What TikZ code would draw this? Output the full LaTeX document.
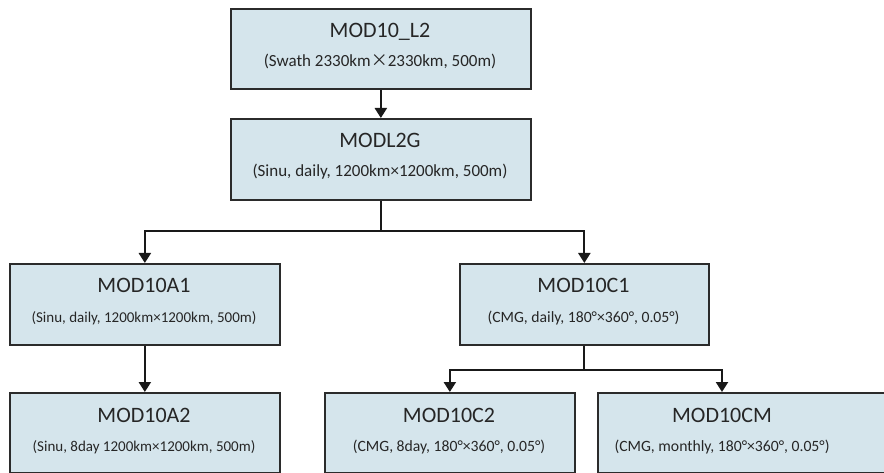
\documentclass[tikz,border=0pt]{standalone}
\usepackage{fontspec}
\setmainfont{Carlito}
\newfontfamily\cjk{Noto Sans CJK SC}
\usetikzlibrary{arrows.meta}
\definecolor{boxfill}{HTML}{D5E5EC}
\definecolor{boxline}{HTML}{2B2B2B}
\tikzset{
  box/.style={draw=boxline, line width=1.7pt, fill=boxfill, anchor=north west, inner sep=0pt, minimum height=80pt},
  ttl/.style={anchor=base, inner sep=0pt, text=black!85, font=\fontsize{22}{22}\selectfont},
  subA/.style={anchor=base, inner sep=0pt, text=black!85, font=\fontsize{17}{17}\selectfont},
  subB/.style={anchor=base, inner sep=0pt, text=black!85, font=\fontsize{15}{15}\selectfont},
  subC/.style={anchor=base, inner sep=0pt, text=black!85, font=\fontsize{15.7}{15.7}\selectfont},
  arr/.style={draw=black!90, line width=2.2pt, -{Triangle[width=12pt,length=10pt]}},
}
\begin{document}
\begin{tikzpicture}[x=1pt,y=-1pt]
\useasboundingbox (0,0) rectangle (884,473);
% boxes
\node[box, minimum width=300pt] (l2)  at (230,8) {};
\node[box, minimum width=300pt, minimum height=81pt] (l2g) at (230,118) {};
\node[box, minimum width=270pt, minimum height=81pt] (a1)  at (9,263) {};
\node[box, minimum width=270pt] (a2)  at (9,392) {};
\node[box, minimum width=249pt, minimum height=81pt] (c1)  at (459,263) {};
\node[box, minimum width=250pt] (c2)  at (324,392) {};
\node[box, minimum width=300pt] (cm)  at (597,392) {};
% texts
\node[ttl]  (l2t)  at (380,37.5) {MOD10\_L2};
\node[subA] (l2s)  at (380,67) {(Swath 2330km{\cjk ×}2330km, 500m)};
\node[ttl]  (l2gt) at (380,147.5) {MODL2G};
\node[subA] (l2gs) at (380,177) {(Sinu, daily, 1200km×1200km, 500m)};
\node[ttl]  (a1t)  at (144,293) {MOD10A1};
\node[subB] (a1s)  at (144,322) {(Sinu, daily, 1200km×1200km, 500m)};
\node[ttl]  (a2t)  at (144,422) {MOD10A2};
\node[subB] (a2s)  at (144,451) {(Sinu, 8day 1200km×1200km, 500m)};
\node[ttl]  (c1t)  at (583.5,293) {MOD10C1};
\node[subC] (c1s)  at (583.5,322) {(CMG, daily, 180°×360°, 0.05°)};
\node[ttl]  (c2t)  at (449,422) {MOD10C2};
\node[subC] (c2s)  at (449,451) {(CMG, 8day, 180°×360°, 0.05°)};
\node[ttl]  (cmt)  at (722,422) {MOD10CM};
\node[subC] (cms)  at (722,451) {(CMG, monthly, 180°×360°, 0.05°)};
% connectors
\coordinate (j1) at ([yshift=-30pt]l2g.south);
\coordinate (j2) at ([yshift=-24pt]c1.south);
\coordinate (cmin) at (cm.north -| cmt);
\draw[arr] (l2.south) -- (l2g.north);
\draw[arr] (l2g.south) -- (j1) -| (a1.north);
\draw[arr] (j1) -| (c1.north);
\draw[arr] (a1.south) -- (a2.north);
\draw[arr] (c1.south) -- (j2) -| (c2.north);
\draw[arr] (j2) -| (cmin);
\end{tikzpicture}
\end{document}
